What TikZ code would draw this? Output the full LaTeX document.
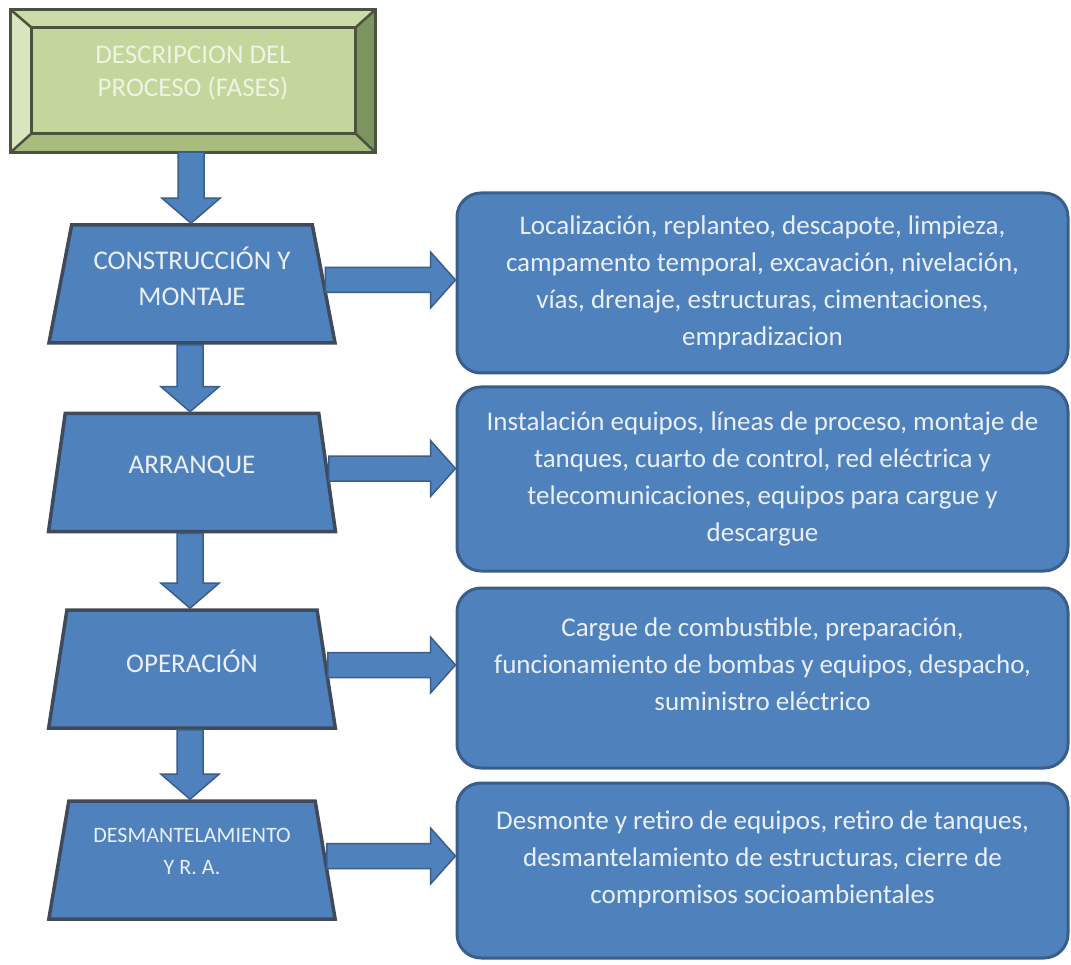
\documentclass[tikz,border=0pt]{standalone}
\usepackage{fontspec}
\setmainfont{Carlito}
\usetikzlibrary{shapes.geometric,calc}

\definecolor{boxblue}{HTML}{4F81BD}
\definecolor{boxline}{HTML}{3A5E8B}
\definecolor{trapline}{HTML}{3F4A5A}
\definecolor{paletext}{HTML}{EAF0F8}
\definecolor{facegreen}{HTML}{C3D69B}
\definecolor{bevtop}{HTML}{CCDCA6}
\definecolor{bevleft}{HTML}{D9E5BF}
\definecolor{bevright}{HTML}{7E9460}
\definecolor{bevbottom}{HTML}{A8BC7E}
\definecolor{bevline}{HTML}{4B5340}
\definecolor{greentext}{HTML}{EEF3E2}

\tikzset{
    phase/.style={trapezium, trapezium left angle=76, trapezium right angle=76,
        trapezium stretches=true, minimum width=287pt, minimum height=118pt,
        inner sep=0pt, fill=boxblue, draw=trapline, line width=3.5pt,
        text=paletext, align=center, font=\fontsize{27pt}{36pt}\selectfont},
    detail/.style={rectangle, rounded corners=24pt, minimum width=611pt,
        fill=boxblue, draw=boxline, line width=3pt,
        text=paletext, align=center, font=\fontsize{27pt}{37pt}\selectfont},
    fatarrow/.style={fill=boxblue, draw=boxline, line width=1.5pt},
    fatdown/.style={fatarrow, to path={let \p1=(\tikztostart), \p2=(\tikztotarget) in
        (\x1-13pt,\y1) -- (\x1-13pt,\y2+25pt) -- (\x1-29pt,\y2+25pt) -- (\x1,\y2)
        -- (\x1+29pt,\y2+25pt) -- (\x1+13pt,\y2+25pt) -- (\x1+13pt,\y1) -- cycle}},
    fatright/.style={fatarrow, to path={let \p1=(\tikztostart), \p2=(\tikztotarget) in
        (\x1,\y1+12.5pt) -- (\x2-25pt,\y1+12.5pt) -- (\x2-25pt,\y1+28pt) -- (\x2,\y1)
        -- (\x2-25pt,\y1-28pt) -- (\x2-25pt,\y1-12.5pt) -- (\x1,\y1-12.5pt) -- cycle}}
}

\begin{document}
\begin{tikzpicture}[x=1pt, y=1pt]
    \useasboundingbox[fill=white] (0,0) rectangle (1071,-965);

    % Title block with bevelled frame
    \node[fill=facegreen, minimum width=364pt, minimum height=142pt, inner sep=0pt,
        text=greentext, align=center, font=\fontsize{27pt}{33pt}\selectfont]
        (desc) at (193,-81) {DESCRIPCION DEL\\PROCESO (FASES)\\[-14pt]};
    \coordinate (in-nw) at ([shift={(21pt,-18pt)}]desc.north west);
    \coordinate (in-ne) at ([shift={(-20pt,-18pt)}]desc.north east);
    \coordinate (in-sw) at ([shift={(21pt,19pt)}]desc.south west);
    \coordinate (in-se) at ([shift={(-20pt,19pt)}]desc.south east);
    \fill[bevtop] (desc.north west) -- (desc.north east) -- (in-ne) -- (in-nw) -- cycle;
    \fill[bevleft] (desc.north west) -- (in-nw) -- (in-sw) -- (desc.south west) -- cycle;
    \fill[bevright] (desc.north east) -- (desc.south east) -- (in-se) -- (in-ne) -- cycle;
    \fill[bevbottom] (desc.south west) -- (in-sw) -- (in-se) -- (desc.south east) -- cycle;
    \draw[bevline, line width=3pt] (desc.north west) rectangle (desc.south east);
    \draw[bevline, line width=3pt] (in-nw) rectangle (in-se);
    \foreach \c/\k in {north west/nw, north east/ne, south west/sw, south east/se}
        \draw[bevline, line width=2.5pt] (desc.\c) -- (in-\k);

    % Phases
    \node[phase] (t1) at (192,-284) {CONSTRUCCIÓN Y\\MONTAJE\\[-20pt]};
    \node[phase] (t2) at (192,-472.5) {ARRANQUE\\[-20pt]};
    \node[phase] (t3) at (192,-669) {OPERACIÓN\\[-20pt]};
    \node[phase, font=\fontsize{22pt}{32pt}\selectfont] (t4) at (192,-860)
        {DESMANTELAMIENTO\\Y R. A.\\[-14pt]};

    % Activities of each phase
    \node[detail, minimum height=180pt] (b1) at (762.5,-283)
        {Localización, replanteo, descapote, limpieza,\\campamento temporal, excavación, nivelación,\\vías, drenaje, estructuras, cimentaciones,\\empradizacion};
    \node[detail, minimum height=184pt] (b2) at (762.5,-479)
        {Instalación equipos, líneas de proceso, montaje de\\tanques, cuarto de control, red eléctrica y\\telecomunicaciones, equipos para cargue y\\descargue};
    \node[detail, minimum height=180pt] (b3) at (762.5,-678)
        {Cargue de combustible, preparación,\\funcionamiento de bombas y equipos, despacho,\\suministro eléctrico\\[-10pt]};
    \node[detail, minimum height=175pt] (b4) at (762.5,-870.5)
        {Desmonte y retiro de equipos, retiro de tanques,\\desmantelamiento de estructuras, cierre de\\compromisos socioambientales\\[-10pt]};

    % Block arrows
    \foreach \a/\b in {desc/t1, t1/t2, t2/t3, t3/t4}
        \draw[fatdown] ([xshift=-2pt]\a.south) to ([xshift=-2pt]\b.north);
    \foreach \i in {1,...,4}
        \draw[fatright] ([yshift=4pt]t\i.east) to ([yshift=4pt]t\i.east -| b\i.west);
\end{tikzpicture}
\end{document}
